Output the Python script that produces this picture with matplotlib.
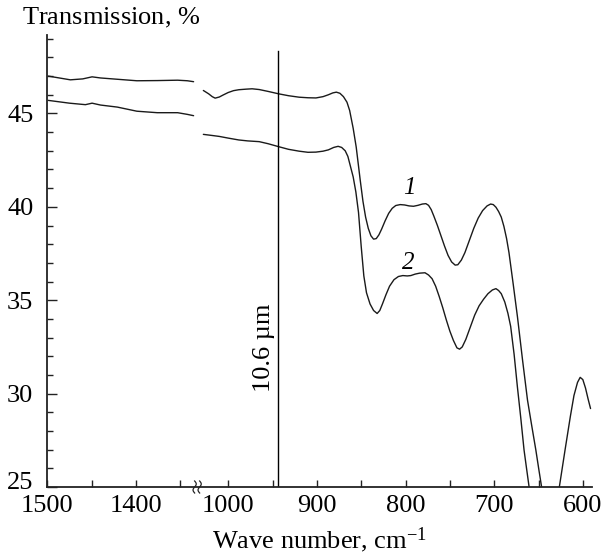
import numpy as np
import matplotlib
matplotlib.use("Agg")
import matplotlib.pyplot as plt
from matplotlib.transforms import IdentityTransform, ScaledTranslation
from matplotlib.ticker import FixedLocator, NullFormatter, FixedFormatter

plt.rcParams['font.family'] = ['Liberation Serif', 'DejaVu Serif']
plt.rcParams['mathtext.fontset'] = 'custom'
plt.rcParams['mathtext.rm'] = 'Liberation Serif'
plt.rcParams['mathtext.it'] = 'Liberation Serif:italic'

# ---- data ----
wn1_left = [1499, 1474, 1460, 1449.5, 1440, 1421, 1399, 1376, 1353, 1342, 1335]
t1_left = [47.0, 46.8, 46.85, 46.96, 46.9, 46.83, 46.75, 46.76, 46.78, 46.75, 46.7]
wn2_left = [1499, 1475, 1457, 1449.5, 1440, 1421, 1399, 1376, 1353, 1342, 1335]
t2_left = [45.7, 45.55, 45.47, 45.55, 45.45, 45.34, 45.12, 45.04, 45.04, 44.95, 44.88]

wn1_right = [1028, 1022, 1018, 1014.7, 1010, 1006, 1000, 994, 988, 980, 973, 965, 955,
             943, 932, 920, 910, 901, 893, 887, 882, 878, 874, 870, 866, 863, 859,
             855.6, 851, 848, 845, 842, 839, 836, 833, 830, 827, 823, 819, 815, 811,
             806, 801, 796, 791, 786, 781, 777, 774, 771, 768, 764, 760, 756, 752, 748,
             744, 741, 737, 733, 728, 723, 718, 713, 708, 704, 701, 698, 695, 692, 689,
             686, 683.3, 678.5, 673.7, 668, 662.4, 657.7, 653, 649.5, 646.5, 641, 637,
             632, 626.5, 620, 614, 610, 606, 603, 600, 597, 594, 591.3]
t1_right = [46.23, 46.05, 45.9, 45.82, 45.88, 45.98, 46.12, 46.22, 46.27, 46.3, 46.32,
            46.28, 46.18, 46.05, 45.95, 45.87, 45.84, 45.83, 45.9, 46.0, 46.1, 46.14,
            46.08, 45.9, 45.6, 45.16, 44.2, 43.2, 41.4, 40.3, 39.45, 38.85, 38.45,
            38.27, 38.3, 38.5, 38.8, 39.25, 39.65, 39.92, 40.07, 40.12, 40.1, 40.05,
            40.03, 40.08, 40.15, 40.17, 40.08, 39.85, 39.5, 39.0, 38.45, 37.9, 37.4,
            37.05, 36.88, 36.9, 37.15, 37.55, 38.2, 38.85, 39.4, 39.8, 40.05, 40.15,
            40.12, 39.98, 39.75, 39.45, 38.95, 38.3, 37.55, 35.85, 34.1, 31.8, 29.65,
            28.3, 26.98, 25.9, 25.0, 23.4, 22.6, 23.5, 25.0, 27.0, 28.8, 29.9, 30.6,
            30.87, 30.75, 30.3, 29.7, 29.2]

wn2_right = [1028, 1018, 1010, 1000, 988, 978, 965, 955, 943, 932, 920, 910, 901, 893,
             887, 881, 876, 872, 868, 865, 862, 859, 856, 853, 850, 847, 844, 840, 836,
             832, 829, 826, 822, 818, 813, 808, 803, 798, 794, 789, 784, 778, 774, 770,
             766, 762, 758, 754, 750, 746, 742, 739, 736, 732, 727, 722, 717, 712, 707,
             702, 698, 695, 692, 688, 684.5, 681.4, 677.5, 673.8, 670, 666.3, 663.5,
             660.6, 656]
t2_right = [43.88, 43.82, 43.77, 43.68, 43.58, 43.53, 43.49, 43.38, 43.22, 43.08, 42.98,
            42.92, 42.93, 42.98, 43.05, 43.18, 43.24, 43.18, 43.0, 42.7, 42.15, 41.6,
            40.8, 39.7, 37.9, 36.3, 35.4, 34.8, 34.45, 34.29, 34.45, 34.8, 35.3, 35.75,
            36.1, 36.27, 36.32, 36.3, 36.32, 36.4, 36.45, 36.47, 36.35, 36.15, 35.75,
            35.2, 34.6, 33.95, 33.35, 32.85, 32.45, 32.38, 32.5, 32.9, 33.55, 34.2,
            34.7, 35.05, 35.35, 35.55, 35.62, 35.52, 35.35, 34.9, 34.3, 33.6, 32.1,
            30.36, 28.7, 26.98, 26.0, 25.0, 23.5]

laser_wn = 943.4
x_major = [1500, 1400, 1000, 900, 800, 700, 600]
x_minor = [1450, 1350, 950, 850, 750, 650]
y_major = [25, 30, 35, 40, 45]
y_minor = list(range(26, 50))

GAP_LO, GAP_HI = 1035, 1331


def fwd(v):
    v = np.asarray(v, dtype=float)
    return np.where(v <= GAP_LO, v, np.maximum(v - (GAP_HI - GAP_LO), GAP_LO))


def inv(u):
    u = np.asarray(u, dtype=float)
    return np.where(u <= GAP_LO, u, u + (GAP_HI - GAP_LO))


FS = 19

fig = plt.figure(figsize=(6.06, 5.57), dpi=100)
ax = fig.add_axes([47.3 / 606, 1 - 487 / 557, (591.7 - 47.3) / 606, (487 - 35) / 557])
ax.set_xscale('function', functions=(fwd, inv))
ax.set_xlim(1500, 590)
ax.set_ylim(25, 49.2)

lc = '#1a1a1a'
lw = 1.0
for wn, t in [(wn1_left, t1_left), (wn2_left, t2_left), (wn1_right, t1_right), (wn2_right, t2_right)]:
    ax.plot(wn, t, color=lc, lw=lw, solid_joinstyle='round', solid_capstyle='round')

ax.plot([laser_wn, laser_wn], [25, 48.37], color='black', lw=1.0)

for s in ['top', 'right']:
    ax.spines[s].set_visible(False)
for s in ['left', 'bottom']:
    ax.spines[s].set_linewidth(1.3)
    ax.spines[s].set_color('#222222')

ax.xaxis.set_major_locator(FixedLocator(x_major))
ax.xaxis.set_major_formatter(FixedFormatter([str(v) for v in x_major]))
ax.xaxis.set_minor_locator(FixedLocator(x_minor))
ax.xaxis.set_minor_formatter(NullFormatter())
ax.yaxis.set_major_locator(FixedLocator(y_major))
ax.yaxis.set_minor_locator(FixedLocator([v for v in y_minor if v % 5]))
ax.yaxis.set_minor_formatter(NullFormatter())

ax.tick_params(axis='x', which='both', direction='in', length=5, width=1.0, labelsize=FS, pad=6, color='#222222')
ax.tick_params(axis='y', which='major', direction='in', length=7, width=1.0, labelsize=FS, pad=10, color='#222222')
ax.tick_params(axis='y', which='minor', direction='in', length=4, width=1.0, color='#222222')

ax.text(796, 41.0, '1', fontsize=FS - 1, fontstyle='italic', ha='center', va='center')
ax.text(797, 37.0, '2', fontsize=FS - 1, fontstyle='italic', ha='center', va='center')
ax.text(960, 32.45, '10.6 µm', fontsize=FS, rotation=90, ha='center', va='center')

fig.text(22 / 606, 1 - 18 / 557, r'Transmission, $\mathit{\%}$', fontsize=FS, ha='left', va='center')
fig.text(319.5 / 606, 1 - 540 / 557, r'Wave number, cm$^{\mathrm{-1}}$', fontsize=FS, ha='center', va='center')

# axis break marker and lifted "25" label
fig.canvas.draw()
lbl25 = ax.yaxis.get_major_ticks()[0].label1
lbl25.set_transform(lbl25.get_transform() + ScaledTranslation(0, 7 / 100, fig.dpi_scale_trans))
bx, by = ax.transData.transform((GAP_LO, 25))
tt = np.linspace(-1, 1, 30)
for off in (-2.5, 2.5):
    xs = bx + off + 1.6 * np.sin(np.pi * tt)
    ys = by + 6 * tt
    ax.plot(xs, ys, color='#222222', lw=0.9, transform=IdentityTransform(), clip_on=False)

fig.savefig('out.png', dpi=100)
